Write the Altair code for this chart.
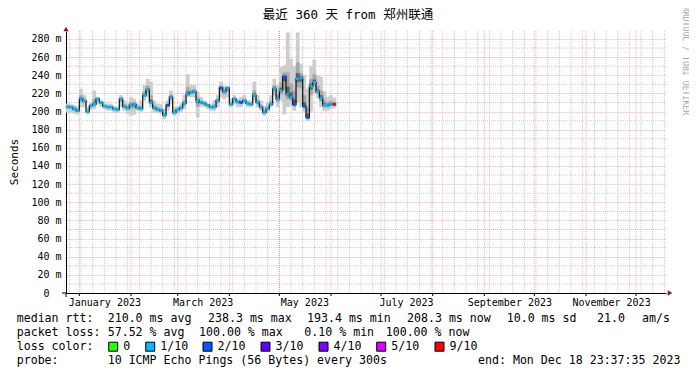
import altair as alt
import pandas as pd

# ---------------- data ----------------
TITLE = "最近 360 天 from 郑州联通"
first_sample = "2022-12-24"
step_days = 2

median_ms = [
    205.5, 205, 203, 201, 214, 212, 200, 206.5, 208, 214,
    210, 206, 205, 205, 203, 202, 214, 205.5, 204, 207,
    208, 204, 203, 218, 224, 210, 204, 202, 201, 196,
    207, 216, 199, 202, 204, 209, 219, 221, 222, 212,
    210, 209, 207, 205, 205, 212, 226, 222, 226, 208,
    214, 211, 210, 212, 209, 208, 218, 210, 205, 199,
    203, 208, 225, 214, 223, 238.3, 219, 216, 208, 236,
    237, 206, 193.5, 228, 232, 222, 215, 207, 207, 208,
    208,
]
smoke_max = [
    208.5, 208, 207, 206, 225, 218, 205, 210, 223, 216,
    212, 210, 208.5, 208.5, 205.5, 205.5, 218, 212, 209, 216,
    214, 208.5, 212, 229, 236, 232.6, 212, 208.5, 208, 203,
    212, 223, 205, 205.5, 208.5, 218, 241, 229, 229, 221.5,
    216, 212, 208.5, 208.5, 212, 218, 233, 228, 228, 214,
    218, 214, 216, 218, 212, 212, 232.6, 218, 212, 205.5,
    210, 218, 236, 229, 249, 251, 287, 258, 250, 287,
    252, 240, 225, 250, 257, 240, 238, 222, 216, 218,
    215,
]
smoke_min = [
    199, 199, 198, 197, 205, 205, 197, 202, 203, 208.5,
    205.5, 203, 201, 201, 199, 199, 205, 201, 197.4, 195.5,
    197, 201, 200, 212, 216, 205, 199, 199, 197.4, 192,
    201, 208.5, 195.5, 197.4, 199, 203, 216, 216, 216, 193.7,
    205.5, 205, 203, 201, 201, 205, 216, 214, 216, 205,
    208.5, 205, 205, 208.5, 205, 205, 212, 205, 201, 195.5,
    199, 205, 218, 205, 212, 197, 205, 206, 201, 210,
    205, 200, 190, 200, 220, 215, 205, 201, 201, 203,
    204,
]
loss = [
    "1/10", "1/10", "1/10", "1/10", "1/10", "1/10", "1/10", "1/10", "1/10", "1/10",
    "1/10", "1/10", "1/10", "1/10", "1/10", "1/10", "1/10", "1/10", "1/10", "1/10",
    "1/10", "1/10", "1/10", "1/10", "1/10", "1/10", "1/10", "1/10", "1/10", "1/10",
    "2/10", "1/10", "1/10", "1/10", "1/10", "1/10", "1/10", "1/10", "1/10", "1/10",
    "1/10", "1/10", "1/10", "1/10", "1/10", "1/10", "2/10", "1/10", "1/10", "1/10",
    "1/10", "1/10", "2/10", "1/10", "1/10", "1/10", "1/10", "1/10", "1/10", "1/10",
    "1/10", "1/10", "1/10", "1/10", "1/10", "2/10", "1/10", "1/10", "2/10", "1/10",
    "1/10", "2/10", "2/10", "1/10", "1/10", "1/10", "1/10", "1/10", "1/10", "1/10",
    "9/10",
]

loss_levels = ["0", "1/10", "2/10", "3/10", "4/10", "5/10", "9/10"]
loss_colors = ["#26ff00", "#00b8ff", "#0059ff", "#5e00ff", "#7e00ff", "#dd00ff", "#ff0000"]

y_major = [0, 20, 40, 60, 80, 100, 120, 140, 160, 180, 200, 220, 240, 260, 280]
y_minor = [10, 30, 50, 70, 90, 110, 130, 150, 170, 190, 210, 230, 250, 270]
month_starts = ["2023-01-01", "2023-02-01", "2023-03-01", "2023-04-01", "2023-05-01",
                "2023-06-01", "2023-07-01", "2023-08-01", "2023-09-01", "2023-10-01",
                "2023-11-01", "2023-12-01"]
label_months = [1, 3, 5, 7, 9, 11]

rtt_stats = ["median rtt:", "210.0 ms avg", "238.3 ms max", "193.4 ms min",
             "208.3 ms now", "10.0 ms sd", "21.0", "am/s"]
loss_stats = ["packet loss:", "57.52 % avg", "100.00 % max", "0.10 % min", "100.00 % now"]
probe_text = ["probe:", "10 ICMP Echo Pings (56 Bytes) every 300s", "end: Mon Dec 18 23:37:35 2023"]
loss_caption = "loss color:"
watermark = "RRDTOOL / TOBI OETIKER"
y_title = "Seconds"

# ---------------- build ----------------
MONO = "DejaVu Sans Mono"
OX, OY = 66, 31            # page position of plot origin
W, H = 600, 262

def px(x):
    return x - OX

def py(y):
    return y - OY

dates = pd.date_range(first_sample, periods=len(median_ms), freq=f"{step_days}D")
df = pd.DataFrame({
    "date": dates,
    "date_end": dates + pd.Timedelta(days=step_days),
    "med": median_ms,
    "smax": smoke_max,
    "smin": smoke_min,
    "loss": loss,
})

x_scale = alt.Scale(domain=[
    alt.DateTime(year=2022, month=12, date=23, hours=23, minutes=37, seconds=35),
    alt.DateTime(year=2023, month=12, date=18, hours=23, minutes=37, seconds=35),
])
y_scale = alt.Scale(domain=[0, 288.8], nice=False, zero=False)

YAX = alt.Axis(
    values=y_major, labelExpr="datum.value == 0 ? '0' : datum.value + ' m'",
    labelFont=MONO, labelFontSize=10, labelColor="black",
    labelPadding={"condition": {"test": "datum.value == 0", "value": 17}, "value": 5},
    ticks=False, domainColor="black", domainWidth=1, title=None,
    grid=True, gridColor="#ff0000", gridOpacity=0.32, gridDash=[1, 1], gridWidth=1)
XAX = alt.Axis(
    values=[alt.DateTime(year=2023, month=m, date=16) for m in label_months],
    format="%B %Y", labelFont=MONO, labelFontSize=10, labelColor="black",
    labelPadding=4, ticks=False, grid=False, domainColor="black", domainWidth=1, title=None)


def Xf(field):
    return alt.X(field, scale=x_scale, axis=XAX, title=None)


def Yf(field):
    return alt.Y(field, scale=y_scale, axis=YAX, title=None)


minor_h = alt.Chart(pd.DataFrame({"v": y_minor})).mark_rule(
    color="#808080", opacity=0.42, strokeDash=[1, 1], strokeWidth=1
).encode(y=Yf("v:Q"))

weeks = pd.date_range("2022-12-26", "2023-12-18", freq="7D")
minor_v = alt.Chart(pd.DataFrame({"d": weeks})).mark_rule(
    color="#808080", opacity=0.42, strokeDash=[1, 1], strokeWidth=1
).encode(x=Xf("d:T"))

month_grid = alt.Chart(pd.DataFrame({"d": pd.to_datetime(month_starts)})).mark_rule(
    color="#ff0000", opacity=0.32, strokeDash=[1, 1], strokeWidth=1
).encode(x=Xf("d:T"))

month_ticks = alt.Chart(pd.DataFrame({"d": pd.to_datetime(month_starts)})).mark_rule(
    color="black", strokeWidth=1
).encode(x=Xf("d:T"), y=alt.value(H), y2=alt.value(H + 3))

base = alt.Chart(df).transform_calculate(
    i_hi="datum.med + 0.35*(datum.smax - datum.med)",
    i_lo="datum.med - 0.35*(datum.med - datum.smin)",
    c_hi="datum.med + 0.12*(datum.smax - datum.med)",
    c_lo="datum.med - 0.12*(datum.med - datum.smin)",
)
X2 = alt.X2("date_end:T")

smoke1 = base.mark_rect(color="#cdcdcd", stroke="#cdcdcd", strokeWidth=0.4).encode(
    x=Xf("date:T"), x2=X2, y=Yf("smin:Q"), y2="smax:Q")
smoke2 = base.mark_rect(color="#a6a6a6", stroke="#a6a6a6", strokeWidth=0.4).encode(
    x=Xf("date:T"), x2=X2, y=Yf("i_lo:Q"), y2="i_hi:Q")
smoke3 = base.mark_rect(color="#606060", stroke="#606060", strokeWidth=0.4).encode(
    x=Xf("date:T"), x2=X2, y=Yf("c_lo:Q"), y2="c_hi:Q")

median_line = base.mark_line(interpolate="step-after", color="#111111", strokeWidth=1.2).encode(
    x=Xf("date:T"), y=Yf("med:Q"))
median_loss = base.mark_rule(strokeWidth=2.6).encode(
    x=Xf("date:T"), x2=X2, y=Yf("med:Q"),
    color=alt.Color("loss:N", scale=alt.Scale(domain=loss_levels, range=loss_colors), legend=None))

one = pd.DataFrame({"a": [0]})
ARROW = "#8b1a1a"
arrow_up = alt.Chart(one).mark_point(shape="triangle-up", filled=True, size=28, color=ARROW, opacity=1).encode(
    x=alt.value(0), y=alt.value(-2))
arrow_right = alt.Chart(one).mark_point(shape="triangle-right", filled=True, size=28, color=ARROW, opacity=1).encode(
    x=alt.value(W + 4), y=alt.value(H))
x_stub = alt.Chart(one).mark_rule(color="black").encode(
    x=alt.value(-4), x2=alt.value(0), y=alt.value(H))
y_stub = alt.Chart(one).mark_rule(color="black").encode(
    x=alt.value(0), y=alt.value(H), y2=alt.value(H + 4))


def txt(s, x, y, size=11.6, align="left", color="black", angle=0, font=MONO):
    return alt.Chart(pd.DataFrame({"t": [s]})).mark_text(
        align=align, baseline="middle", font=font, fontSize=size, color=color, angle=angle
    ).encode(x=alt.value(px(x)), y=alt.value(py(y)), text="t:N")


texts = [
    txt(TITLE, 348, 15, size=12.5, align="center", font="DejaVu Sans Mono, Noto Sans CJK SC"),
    txt(y_title, 15, 162, size=11, align="center", angle=270),
    txt(watermark, 684.5, 61, size=8.2, align="center", angle=90, color="#a8a8a8"),
]
rtt_x = [16.7, 107.7, 208, 307, 407, 506.7, 597, 642]
for s, x in zip(rtt_stats, rtt_x):
    texts.append(txt(s, x, 319.3))
loss_x = [16.7, 107.7, 199, 304.3, 385.7]
for s, x in zip(loss_stats, loss_x):
    texts.append(txt(s, x, 332.7))
texts.append(txt(loss_caption, 16.7, 346.7))
box_x = [108.7, 145.7, 203, 261, 319, 376.7, 435]
for lab, col, bx in zip(loss_levels, loss_colors, box_x):
    texts.append(alt.Chart(one).mark_rect(color=col, stroke="black", strokeWidth=1).encode(
        x=alt.value(px(bx)), x2=alt.value(px(bx + 9)),
        y=alt.value(py(346.7 - 4.5)), y2=alt.value(py(346.7 + 4.5))))
    texts.append(txt(lab, bx + 14.5, 346.7))
probe_x = [16.7, 107.7, 478]
for s, x in zip(probe_text, probe_x):
    texts.append(txt(s, x, 360.7))

chart = alt.layer(
    minor_h, minor_v, month_grid,
    smoke1, smoke2, smoke3, median_line, median_loss,
    month_ticks, x_stub, y_stub, arrow_up, arrow_right,
    *texts,
).properties(
    width=W, height=H,
    autosize=alt.AutoSizeParams(type="none"),
    padding={"left": 58, "top": 23, "right": 23, "bottom": 74},
    background="white",
).configure_view(strokeWidth=0)

chart.save("out.html", embed_options={"renderer": "svg", "actions": False})
